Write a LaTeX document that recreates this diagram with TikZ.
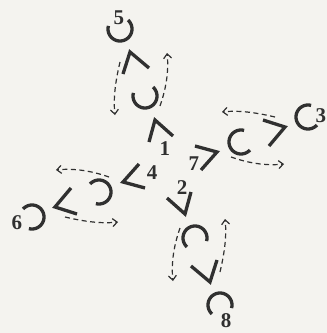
\documentclass[tikz,border=0pt]{standalone}
\usepackage{fontspec}
\setmainfont{Liberation Serif}
\usetikzlibrary{arrows.meta}
\definecolor{ink}{HTML}{303030}
\definecolor{paper}{HTML}{F4F3EF}
\begin{document}
\begin{tikzpicture}[x=1pt,y=-1pt,
  chain/.style={line width=3.3pt, draw=ink, line join=miter, line cap=butt},
  swap/.style={line width=1.2pt, draw=ink, dash pattern=on 5pt off 3.5pt, -{Straight Barb[length=4.5pt,width=8pt]}},
  lab/.style={font=\fontsize{21}{21}\selectfont\bfseries, text=ink, inner sep=0pt}]
\fill[paper] (0,0) rectangle (327,333);
\useasboundingbox (0,0) rectangle (327,333);
\coordinate (ctr) at (170,167);
\foreach \k/\n in {0/t,1/r,2/b,3/l} {
  \begin{scope}[shift={(ctr)}, rotate=-90*\k]
    \draw[chain] (3,-31) -- (-15,-47) -- (-21,-25);
    \draw[chain] plot[domain=-48:195, samples=41, smooth] ({-25+12*cos(\x)},{-71+12*sin(\x)});
    \draw[chain] (-21,-99) -- (-40,-115) -- (-47,-93);
    \draw[chain] plot[domain=-48:195, samples=41, smooth] ({-50+12*cos(\x)},{-138+12*sin(\x)});
    \coordinate (\n s1) at (-50,-105);
    \coordinate (\n e1) at (-55,-52);
    \coordinate (\n s2) at (-10,-61);
    \coordinate (\n e2) at (-3,-114);
    \draw[swap] (\n s1) .. controls (-54,-88) and (-57,-70) .. (\n e1);
    \draw[swap] (\n s2) .. controls (-4,-78) and (-1,-96) .. (\n e2);
  \end{scope}
}
\node[lab] (n5) at (119,18) {5};
\node[lab] (n1) at (165,149) {1};
\node[lab] (n7) at (194,164) {7};
\node[lab] (n3) at (321,116) {3};
\node[lab] (n2) at (182,188) {2};
\node[lab] (n8) at (226,321) {8};
\node[lab] (n4) at (152,173) {4};
\node[lab] (n6) at (17,223) {6};
\end{tikzpicture}
\end{document}
